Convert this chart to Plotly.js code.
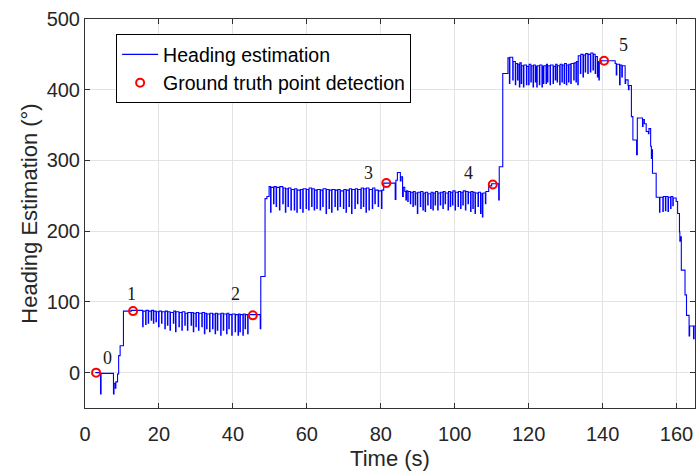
<!DOCTYPE html>
<html>
<head>
<meta charset="utf-8">
<script src="https://cdn.plot.ly/plotly-3.0.1.min.js"></script>
<style>html,body{margin:0;padding:0;background:#fff;}#chart{width:697px;height:474px;}</style>
</head>
<body>
<div id="chart"></div>
<script>
// Heading estimation samples (time in s, heading in degrees)
var timeS = [
  2.8, 4.2, 4.35, 7.7, 7.85, 8.2, 8.35, 8.8, 9.1, 9.5, 10.4, 12.5,
  15.6, 15.72, 16.4, 16.52, 17.1, 17.22, 17.9, 18.02, 18.5, 18.62, 19.2, 19.32, 19.9, 20.02,
  20.7, 20.82, 21.6, 21.72, 22.3, 22.42, 23.0, 23.12, 23.9, 24.02, 24.5, 24.62, 25.4, 25.52,
  26.2, 26.32, 27.0, 27.12, 27.7, 27.82, 28.7, 28.82, 29.3, 29.42, 30.0, 30.12, 30.7, 30.82,
  31.6, 31.72, 32.3, 32.42, 32.9, 33.02, 33.7, 33.82, 34.5, 34.62, 35.2, 35.32, 35.8, 35.92,
  36.7, 36.82, 37.4, 37.52, 38.3, 38.42, 38.9, 39.02, 39.7, 39.82, 40.6, 40.72, 41.4, 41.52,
  41.9, 42.02, 42.7, 42.82, 43.3, 43.42, 44.0, 44.12,
  47.4, 47.55, 48.7, 49.2, 49.8,
  50.2, 50.32, 51.0, 51.12, 51.7, 51.82, 52.6, 52.72, 53.5, 53.62, 54.2, 54.32, 54.9, 55.02,
  55.7, 55.82, 56.6, 56.72, 57.3, 57.42, 58.2, 58.32, 58.9, 59.02, 59.8, 59.92, 60.5, 60.62,
  61.3, 61.42, 62.0, 62.12, 62.7, 62.82, 63.6, 63.72, 64.3, 64.42, 65.2, 65.32, 66.0, 66.12,
  66.7, 66.82, 67.6, 67.72, 68.3, 68.42, 69.0, 69.12, 69.9, 70.02, 70.6, 70.72, 71.4, 71.52,
  72.1, 72.22, 73.0, 73.12, 73.7, 73.82, 74.6, 74.72, 75.3, 75.42, 76.0, 76.12, 76.8, 76.92,
  77.7, 77.82, 78.4, 78.52, 79.3, 79.42, 80.2, 80.32,
  80.8, 83.9, 84.1, 84.5, 85.3, 85.5, 85.9, 86.1, 86.5, 86.8, 86.95,
  87.3, 87.42, 88.0, 88.12, 88.7, 88.82, 89.3, 89.42, 89.9, 90.02, 90.7, 90.82, 91.4, 91.52,
  92.0, 92.12, 92.7, 92.82, 93.5, 93.62, 94.1, 94.22, 94.7, 94.82, 95.4, 95.52, 96.1, 96.22,
  96.8, 96.92, 97.4, 97.52, 98.2, 98.32, 98.8, 98.92, 99.4, 99.52, 100.1, 100.22, 100.9, 101.02,
  101.6, 101.72, 102.2, 102.32, 102.9, 103.02, 103.6, 103.72, 104.3, 104.42, 104.9, 105.02,
  105.5, 105.62, 106.3, 106.42, 107.0, 107.12, 107.5, 107.62, 108.3, 108.42,
  109.2, 110.0, 111.9, 112.05, 113.0, 114.4,
  114.8, 114.92, 115.7, 115.82, 116.4, 116.52, 117.0, 117.12, 117.5, 117.62, 118.0, 118.12,
  118.6, 118.72, 119.4, 119.52, 120.0, 120.12, 120.6, 120.72, 121.2, 121.32, 121.8, 121.92,
  122.2, 122.32, 122.9, 123.02, 123.6, 123.72, 124.0, 124.12, 124.7, 124.82, 125.1, 125.22,
  125.8, 125.92, 126.6, 126.72, 127.2, 127.32, 127.7, 127.82, 128.4, 128.52, 129.0, 129.12,
  129.6, 129.72, 130.2, 130.32, 130.8, 130.92, 131.4, 131.52, 132.2, 132.32, 132.8, 132.92,
  133.3, 133.42, 134.0, 134.12, 134.7, 134.82, 135.3, 135.42, 136.0, 136.12, 136.7, 136.82,
  137.4, 137.52, 138.0, 138.12, 138.6, 138.72, 139.0, 139.12, 139.6,
  143.4, 143.7, 143.85, 144.6, 144.75, 145.2, 145.35, 146.1, 146.25, 146.9, 147.0, 147.15,
  147.8, 148.2, 149.2, 149.4, 150.8, 150.95, 151.3, 151.8, 152.4, 152.55, 153.0, 153.2,
  153.3, 153.5, 154.5,
  155.4, 155.52, 156.3, 156.42, 157.0, 157.12, 157.7, 157.82, 158.4, 158.52, 159.0, 159.12,
  159.9, 160.3, 160.8, 160.9, 161.0, 161.3, 162.3, 162.7, 163.4, 163.55, 164.6, 164.75, 165.0
];
var headingDeg = [
  0, -30, -1, -30, -15, -22, -13, -2, 24, 38, 87, 88,
  65, 87, 68, 88, 70, 87, 74, 88, 70, 87, 72, 86, 65, 87,
  70, 86, 62, 87, 67, 86, 60, 85, 70, 87, 58, 86, 65, 85,
  60, 86, 67, 84, 60, 85, 67, 85, 58, 84, 65, 85, 60, 84,
  65, 85, 55, 84, 62, 83, 58, 84, 62, 83, 55, 84, 60, 83,
  53, 84, 60, 83, 55, 84, 62, 82, 53, 83, 58, 82, 53, 83,
  58, 82, 53, 83, 62, 82, 55, 82,
  62, 136, 246, 249, 263,
  227, 262, 239, 263, 235, 262, 230, 263, 239, 261, 227, 260, 235, 261,
  230, 259, 230, 260, 227, 258, 232, 259, 227, 260, 232, 259, 230, 261,
  235, 260, 230, 258, 232, 259, 230, 258, 235, 260, 225, 259, 232, 258,
  227, 259, 235, 258, 230, 259, 235, 257, 232, 259, 227, 258, 235, 260,
  225, 259, 232, 260, 239, 259, 232, 261, 235, 260, 227, 261, 230, 259,
  232, 261, 239, 258, 235, 257, 232, 258,
  268, 245, 272, 283, 271, 277, 249, 262, 256, 244, 257,
  242, 256, 239, 255, 235, 256, 237, 254, 225, 255, 235, 256, 230, 254,
  228, 255, 237, 253, 232, 255, 230, 254, 237, 256, 230, 254, 237, 255,
  232, 256, 239, 254, 230, 256, 235, 255, 237, 257, 230, 255, 235, 256,
  232, 255, 237, 257, 230, 256, 239, 255, 228, 256, 232, 255,
  225, 254, 235, 255, 225, 253, 220, 254, 239, 256,
  264, 267, 244, 291, 423, 445,
  409, 446, 414, 440, 407, 437, 414, 436, 404, 438, 409, 434,
  404, 435, 407, 433, 407, 436, 411, 434, 404, 435, 411, 433,
  404, 434, 407, 435, 404, 433, 409, 434, 409, 436, 411, 434,
  407, 435, 409, 433, 414, 436, 411, 434, 407, 436, 411, 435,
  409, 437, 407, 435, 411, 436, 409, 437, 414, 438, 411, 440,
  407, 448, 423, 450, 418, 449, 425, 451, 423, 450, 425, 452,
  428, 450, 423, 447, 418, 440, 414, 438, 441,
  437, 421, 436, 407, 435, 418, 434, 409, 414, 406, 400, 406,
  362, 329, 308, 360, 348, 358, 352, 341, 338, 345, 320, 303,
  315, 282, 248,
  227, 248, 228, 249, 229, 249, 228, 248, 232, 249, 236, 247,
  242, 225, 199, 186, 192, 145, 110, 81, 52, 66, 48, 66, 66
];
// Ground truth points
var gtTime = [3.0, 13.0, 45.4, 81.5, 110.3, 140.4];
var gtHeading = [0, 87, 81, 268, 266, 441];
var gtLabels = ['0', '1', '2', '3', '4', '5'];
var gtLabelTime = [6.1, 12.6, 40.6, 76.7, 103.7, 145.7];
var gtLabelHeading = [20, 111, 111, 282, 282, 463];

var xTicks = [0, 20, 40, 60, 80, 100, 120, 140, 160];
var yTicks = [0, 100, 200, 300, 400, 500];

var traces = [
  {
    x: timeS, y: headingDeg, type: 'scatter', mode: 'lines',
    name: 'Heading estimation',
    line: {color: '#0000ff', width: 1.1, shape: 'hv'}
  },
  {
    x: gtTime, y: gtHeading, type: 'scatter', mode: 'markers',
    name: 'Ground truth point detection',
    marker: {symbol: 'circle-open', size: 8, color: '#ff0000', line: {color: '#ff0000', width: 2}}
  }
];

var annotations = gtLabels.map(function (lab, i) {
  return {
    x: gtLabelTime[i], y: gtLabelHeading[i], xref: 'x', yref: 'y',
    text: lab, showarrow: false,
    font: {family: 'Liberation Serif, Times New Roman, serif', size: 18, color: '#1a1a1a'}
  };
});

var axisCommon = {
  showline: true, linecolor: '#333333', linewidth: 1, mirror: 'ticks',
  ticks: 'inside', ticklen: 5, tickcolor: '#333333', tickwidth: 1,
  showgrid: true, gridcolor: '#e3e3e3', gridwidth: 1, zeroline: false,
  tickfont: {family: 'Liberation Sans, Arial, sans-serif', size: 20, color: '#262626'}
};

var layout = {
  width: 697, height: 474,
  margin: {l: 85, r: 2, t: 19, b: 66},
  paper_bgcolor: '#ffffff', plot_bgcolor: '#ffffff',
  showlegend: true,
  legend: {
    x: 0.051, y: 0.961, xanchor: 'left', yanchor: 'top',
    bgcolor: '#ffffff', bordercolor: '#000000', borderwidth: 1,
    font: {family: 'Liberation Sans, Arial, sans-serif', size: 19.5, color: '#000000'},
    itemwidth: 36, tracegroupgap: 0
  },
  xaxis: Object.assign({}, axisCommon, {
    range: [0, 165], tickvals: xTicks, ticktext: xTicks.map(String),
    ticklabelstandoff: 8,
    title: {text: 'Time (s)', font: {family: 'Liberation Sans, Arial, sans-serif', size: 22, color: '#262626'}, standoff: 6}
  }),
  yaxis: Object.assign({}, axisCommon, {
    range: [-50, 500], tickvals: yTicks, ticktext: yTicks.map(String),
    title: {text: 'Heading Estimation (°)', font: {family: 'Liberation Sans, Arial, sans-serif', size: 22, color: '#262626'}, standoff: 2}
  }),
  annotations: annotations
};

Plotly.newPlot('chart', traces, layout, {displayModeBar: false, staticPlot: true});
</script>
</body>
</html>
